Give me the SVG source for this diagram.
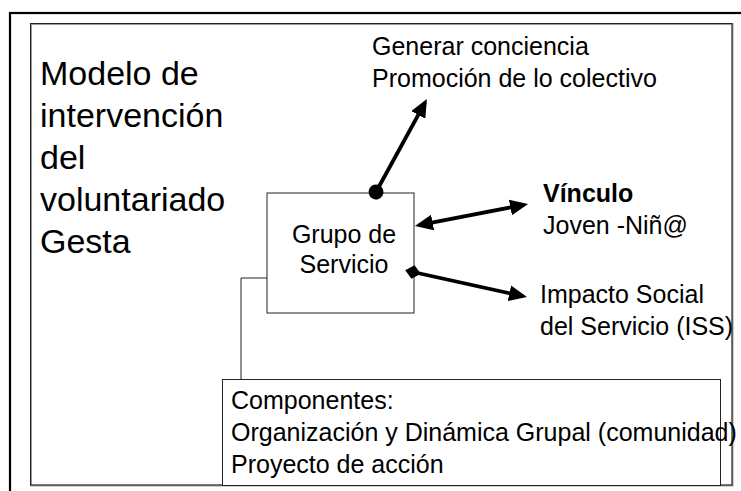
<svg xmlns="http://www.w3.org/2000/svg" width="741" height="491" viewBox="0 0 741 491">
  <style>
    text { font-family: "Liberation Sans", Arial, Helvetica, sans-serif; fill: #000; }
    .title { font-size: 34px; }
    .lbl { font-size: 25px; }
    .bold { font-weight: bold; }
    .box { fill: #fff; stroke: #222; stroke-width: 1; }
    .conn { fill: none; stroke: #000; stroke-width: 3.8; }
    .thin { fill: none; stroke: #222; stroke-width: 1; }
  </style>
  <defs>
    <marker id="arrow" markerUnits="userSpaceOnUse" markerWidth="18" markerHeight="16" refX="14" refY="8" orient="auto-start-reverse" viewBox="0 0 18 16">
      <path d="M0,0 L18,8 L0,16 z" fill="#000"/>
    </marker>
    <marker id="dot" markerUnits="userSpaceOnUse" markerWidth="18" markerHeight="18" refX="9" refY="9" orient="auto" viewBox="0 0 18 18">
      <circle cx="9" cy="9" r="7.5" fill="#000"/>
    </marker>
    <marker id="diamond" markerUnits="userSpaceOnUse" markerWidth="18" markerHeight="18" refX="9" refY="9" orient="auto" viewBox="0 0 18 18">
      <path d="M1,9 L9,2 L17,9 L9,16 z" fill="#000"/>
    </marker>
  </defs>

  <rect x="0" y="0" width="741" height="491" fill="#fff"/>
  <!-- outer black frame -->
  <rect x="10" y="13" width="760" height="500" fill="none" stroke="#000" stroke-width="2.2"/>
  <!-- inner frame -->
  <rect x="31" y="24" width="701.5" height="461.5" fill="none" stroke="#9a9a9a" stroke-width="2"/>
  <rect x="30.5" y="23.5" width="701.5" height="461.5" fill="none" stroke="#222" stroke-width="1"/>

  <g id="title">
    <text class="title" x="40" y="85">Modelo de</text>
    <text class="title" x="40" y="127">intervención</text>
    <text class="title" x="40" y="169">del</text>
    <text class="title" x="40" y="211">voluntariado</text>
    <text class="title" x="40" y="253">Gesta</text>
  </g>

  <g id="grupo">
    <rect class="box" x="267" y="193" width="147" height="120"/>
    <text class="lbl" x="344" y="243" text-anchor="middle">Grupo de</text>
    <text class="lbl" x="344" y="273" text-anchor="middle">Servicio</text>
  </g>

  <g id="conciencia">
    <text class="lbl" x="372" y="55">Generar conciencia</text>
    <text class="lbl" x="372" y="87">Promoción de lo colectivo</text>
  </g>

  <g id="vinculo">
    <text class="lbl bold" x="543" y="202">Vínculo</text>
    <text class="lbl" x="543" y="234">Joven -Niñ@</text>
  </g>

  <g id="impacto">
    <text class="lbl" x="540" y="303">Impacto Social</text>
    <text class="lbl" x="540" y="335">del Servicio (ISS)</text>
  </g>

  <g id="componentes">
    <rect class="box" x="222.5" y="379.5" width="498" height="106"/>
    <text class="lbl" x="231" y="409">Componentes:</text>
    <text class="lbl" x="231" y="441">Organización y Dinámica Grupal (comunidad)</text>
    <text class="lbl" x="231" y="473">Proyecto de acción</text>
  </g>

  <g id="connectors">
    <polyline class="thin" points="267,278 241,278 241,379"/>
    <line class="conn" x1="376" y1="192" x2="425" y2="102.6" marker-start="url(#dot)" marker-end="url(#arrow)"/>
    <line class="conn" x1="418.9" y1="225.2" x2="524.1" y2="204.8" marker-start="url(#arrow)" marker-end="url(#arrow)"/>
    <line class="conn" x1="413" y1="272" x2="523.1" y2="296.2" marker-start="url(#diamond)" marker-end="url(#arrow)"/>
  </g>
</svg>
